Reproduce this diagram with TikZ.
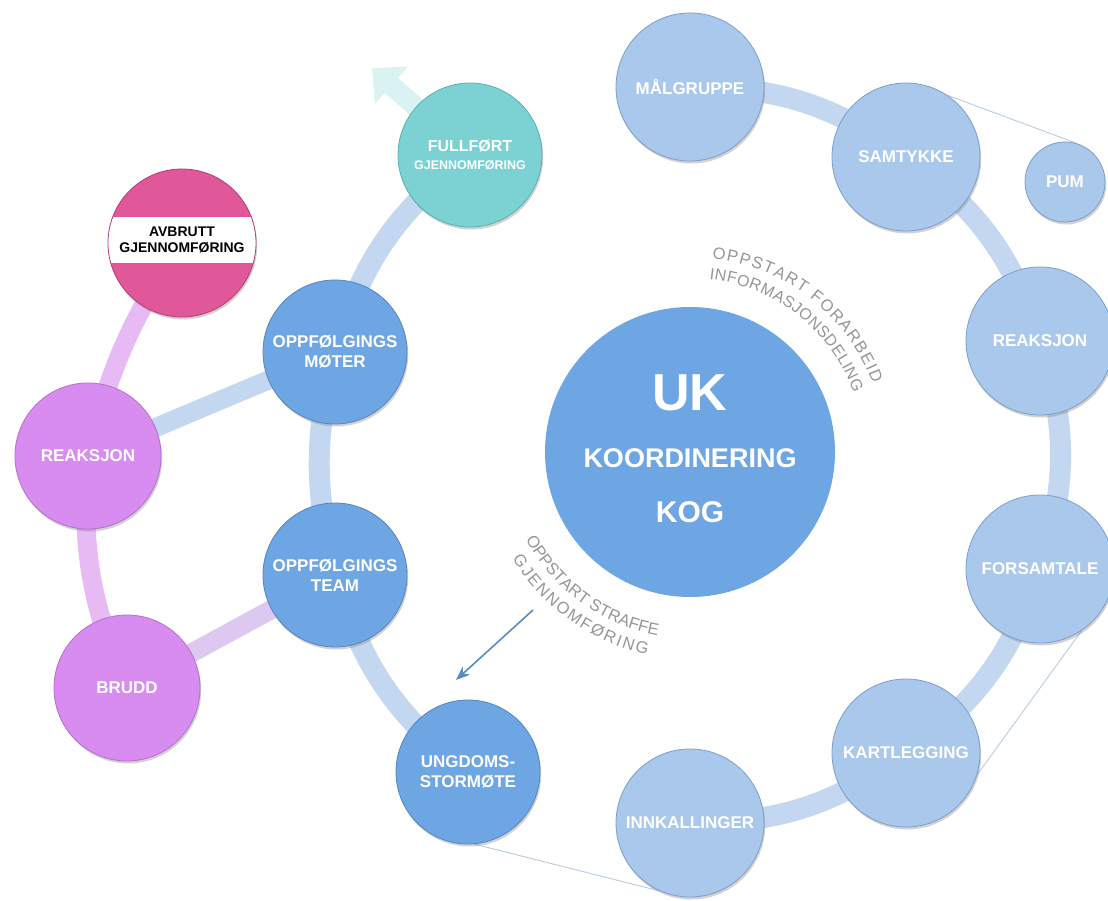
\documentclass[tikz,border=0pt]{standalone}
\usepackage{fontspec}
\setmainfont{Liberation Sans}
\usetikzlibrary{arrows.meta,shadows,decorations.text}
\pgfdeclarelayer{bg}
\pgfsetlayers{bg,main}
\definecolor{ringnode}{RGB}{169,200,236}
\definecolor{ringedge}{RGB}{125,158,202}
\definecolor{midblue}{RGB}{110,166,228}
\definecolor{midedge}{RGB}{84,132,192}
\definecolor{tealn}{RGB}{124,210,210}
\definecolor{tealedge}{RGB}{90,175,178}
\definecolor{pinkn}{RGB}{224,88,154}
\definecolor{pinkedge}{RGB}{180,60,120}
\definecolor{purplen}{RGB}{216,140,240}
\definecolor{purpedge}{RGB}{180,110,205}
\definecolor{bandblue}{RGB}{196,215,240}
\definecolor{bandpurple}{RGB}{232,186,244}
\definecolor{bandlav}{RGB}{220,200,240}
\definecolor{arcgray}{RGB}{150,150,150}
\definecolor{thinln}{RGB}{185,205,222}
\definecolor{arrowblue}{RGB}{90,139,198}
\definecolor{fadeteal}{RGB}{218,242,242}
\newcommand\arcfont{\fontsize{16.5}{16.5}\selectfont\color{arcgray}}
\newcommand\arcfontb{\fontsize{16}{16}\selectfont\color{arcgray}}
\begin{document}
\begin{tikzpicture}[x=1pt,y=1pt,
  bub/.style={circle, inner sep=0pt, align=center, text=white,
    font=\bfseries\fontsize{17}{20}\selectfont, line width=0.8pt,
    drop shadow={shadow xshift=1.2pt, shadow yshift=-2.5pt, opacity=0.35}},
  ringn/.style={bub, minimum size=148pt, fill=ringnode, draw=ringedge},
  bluen/.style={bub, minimum size=144pt, fill=midblue, draw=midedge},
  tealnode/.style={bub, minimum size=144pt, fill=tealn, draw=tealedge, font=\bfseries\fontsize{16}{18}\selectfont},
  purpn/.style={bub, minimum size=146pt, fill=purplen, draw=purpedge},
  pinknode/.style={bub, minimum size=148pt, fill=pinkn, draw=pinkedge},
  ukn/.style={circle, inner sep=0pt, minimum size=290pt, fill=midblue},
  uktext/.style={text=white, anchor=base, inner sep=0pt},
  band/.style={line width=21pt, draw=bandblue},
  pband/.style={line width=19pt, draw=bandpurple},
  thinline/.style={draw=thinln, line width=0.9pt},
  arctext/.style={decorate, decoration={text along path, text align={fit to path}, text={#1}}}
]
\clip (0,0) rectangle (1108,900);
\begin{pgfonlayer}{bg}
  \fill[white] (0,0) rectangle (1108,900);
\end{pgfonlayer}

% central node
\node[ukn] (uk) at (690,448) {};
\node[uktext, font=\bfseries\fontsize{52}{52}\selectfont] (uktxt) at (690,489) {UK};
\node[uktext, font=\bfseries\fontsize{27}{27}\selectfont] (koordtxt) at (690,432) {KOORDINERING};
\node[uktext, font=\bfseries\fontsize{30}{30}\selectfont] (kogtxt) at (690,377) {KOG};

% right ring
\node[ringn] (malgruppe) at (690,813) {MÅLGRUPPE};
\node[ringn] (samtykke) at (906,743) {SAMTYKKE};
\node[ringn] (reaksjonR) at (1040,559) {REAKSJON};
\node[ringn] (forsamtale) at (1040,331) {FORSAMTALE};
\node[ringn] (kartlegging) at (906,147) {KARTLEGGING};
\node[ringn] (innkallinger) at (690,77) {INNKALLINGER};
\node[ringn, minimum size=80pt] (pum) at (1065,718) {PUM};

% left ring
\node[tealnode] (fullfort) at (470,745) {{\fontsize{16}{18}\selectfont FULLFØRT}\\{\fontsize{12.5}{15}\selectfont GJENNOMFØRING}};
\node[bluen] (moter) at (335,548) {OPPFØLGINGS\\MØTER};
\node[bluen] (team) at (335,325) {OPPFØLGINGS\\TEAM};
\node[bluen] (ungdom) at (468,128) {UNGDOMS-\\STORMØTE};

% purple group
\node[purpn] (reaksjonL) at (88,444) {REAKSJON};
\node[purpn] (brudd) at (127,212) {BRUDD};
\node[pinknode, path picture={\fill[white] ([shift={(-90,-20)}]path picture bounding box.center) rectangle ([shift={(90,26)}]path picture bounding box.center);}] (avbrutt) at (182,657) {};
\node[text=black, font=\bfseries\fontsize{14}{16.5}\selectfont, align=center, inner sep=0pt] (avtxt) at (182,660) {AVBRUTT\\GJENNOMFØRING};

% connectors behind nodes
\coordinate (fulltip) at (372,832);
\begin{pgfonlayer}{bg}
  \draw[line width=20pt, fadeteal, -{Triangle[width=48pt,length=26pt]}] (fullfort.center) -- (fulltip);
  \draw[band] (malgruppe.center) to[bend left=18] (samtykke.center);
  \draw[band] (samtykke.center) to[bend left=18] (reaksjonR.center);
  \draw[band] (reaksjonR.center) to[bend left=18] (forsamtale.center);
  \draw[band] (forsamtale.center) to[bend left=18] (kartlegging.center);
  \draw[band] (kartlegging.center) to[bend left=18] (innkallinger.center);
  \draw[band] (fullfort.center) to[bend right=18] (moter.center);
  \draw[band] (moter.center) to[bend right=14] (team.center);
  \draw[band] (team.center) to[bend right=18] (ungdom.center);
  \draw[band, line width=19pt] (reaksjonL.center) -- (moter.center);
  \draw[band, line width=19pt, draw=bandlav] (brudd.center) -- (team.center);
  \draw[pband] (avbrutt.center) to[bend right=10] (reaksjonL.center);
  \draw[pband] (reaksjonL.center) to[bend right=14] (brudd.center);
  \draw[thinline] (samtykke.56) -- (pum.73);
  \draw[thinline] (forsamtale.-56) -- (kartlegging.-17);
  \draw[thinline] (ungdom.-85) -- (innkallinger.-114);
\end{pgfonlayer}

% small arrow
\coordinate (arrs) at (533,290);
\coordinate (arre) at (456,220);
\draw[arrowblue, line width=1.6pt, -{Stealth[length=14pt,width=11pt]}] (arrs) -- (arre);

% curved labels
\path[arctext={|\arcfont|OPPSTART FORARBEID}] ([shift={(83.5:195)}]uk.center) arc[start angle=83.5, end angle=20.5, radius=195];
\path[arctext={|\arcfontb|INFORMASJONSDELING}] ([shift={(83.6:174)}]uk.center) arc[start angle=83.6, end angle=19.8, radius=174];
\path[arctext={|\arcfont|OPPSTART STRAFFE}] ([shift={(208:186)}]uk.center) arc[start angle=208, end angle=260, radius=186];
\path[arctext={|\arcfont|GJENNOMFØRING}] ([shift={(211:207)}]uk.center) arc[start angle=211, end angle=258, radius=207];
\end{tikzpicture}
\end{document}
